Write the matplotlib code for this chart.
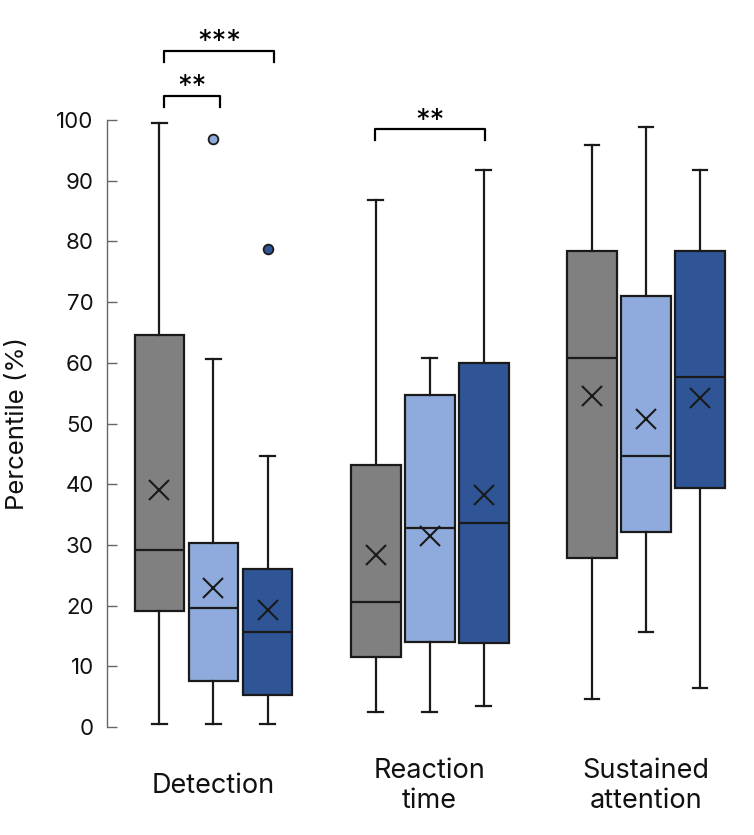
import matplotlib.pyplot as plt

plt.rcParams['font.family'] = ['Inter', 'DejaVu Sans']

# 数据
tasks = ['Detection', 'Reaction\ntime', 'Sustained\nattention']
colors = ['#808080', '#8faadc', '#2f5597']

whis_low = [[0.5, 0.5, 0.5], [2.5, 2.5, 3.5], [4.6, 15.6, 6.4]]
q1 = [[19.1, 7.6, 5.3], [11.5, 14.0, 13.8], [27.8, 32.1, 39.4]]
median = [[29.2, 19.6, 15.6], [20.6, 32.8, 33.6], [60.8, 44.6, 57.7]]
q3 = [[64.5, 30.3, 26.0], [43.2, 54.7, 60.0], [78.4, 71.0, 78.4]]
whis_high = [[99.5, 60.7, 44.6], [86.8, 60.8, 91.8], [95.9, 98.8, 91.8]]
means = [[39.0, 22.9, 19.3], [28.3, 31.5, 38.2], [54.5, 50.7, 54.2]]
outliers = [[[], [96.9], [78.8]], [[], [], []], [[], [], []]]

# 显著性标记: (组, 起始盒, 结束盒, 高度, 文本)
sig = [(0, 0, 2, 111.4, '***'), (0, 0, 1, 104.0, '**'), (1, 0, 2, 98.5, '**')]

fig = plt.figure(figsize=(7.54, 8.35), dpi=100)
ax = fig.add_axes([107 / 754, 1 - 727 / 835, 1 - 107 / 754, 114 * 6.07 / 835])

edge = '#1a1a1a'
for g in range(3):
    for i in range(3):
        pos = g * 4 + i
        st = {'whislo': whis_low[g][i], 'q1': q1[g][i], 'med': median[g][i],
              'q3': q3[g][i], 'whishi': whis_high[g][i], 'mean': means[g][i],
              'fliers': outliers[g][i]}
        ax.bxp([st], positions=[pos], widths=0.92, capwidths=0.27,
               patch_artist=True, showmeans=True,
               boxprops=dict(facecolor=colors[i], edgecolor=edge, linewidth=1.6),
               medianprops=dict(color=edge, linewidth=1.6),
               whiskerprops=dict(color=edge, linewidth=1.6),
               capprops=dict(color=edge, linewidth=1.6),
               meanprops=dict(marker='x', markersize=14, markeredgecolor=edge,
                              markeredgewidth=1.5),
               flierprops=dict(marker='o', markersize=7, markerfacecolor=colors[i],
                               markeredgecolor=edge, markeredgewidth=1.3))

# 显著性括号
for g, a, b, h, txt in sig:
    off = 0.08 if g == 0 else -0.02
    x1, x2 = g * 4 + a + off, g * 4 + b + off + 0.04
    ax.plot([x1, x1, x2, x2], [h - 1.8, h, h, h - 1.8], color='black',
            linewidth=1.6, clip_on=False)
    ax.text((x1 + x2) / 2, h - 0.9, txt, ha='center', va='bottom', fontsize=21)

ax.set_xlim(-0.97, 11.0)
ax.set_ylim(0, 114)
ax.spines['left'].set_bounds(0, 100)
ax.spines['left'].set_color('#666666')
ax.spines['left'].set_linewidth(1.0)
for s in ['top', 'right', 'bottom']:
    ax.spines[s].set_visible(False)

ax.set_yticks(range(0, 101, 10))
ax.tick_params(axis='y', direction='in', length=7, width=1.0, color='#666666',
               labelsize=16, labelcolor='#111111', pad=9.5)
ax.set_xticks([1, 5, 9])
ax.set_xticklabels(tasks, fontsize=19.5, color='#111111', linespacing=1.2,
                   va='center')
ax.tick_params(axis='x', length=0, pad=42.5)
ax.set_ylabel('Percentile (%)', fontsize=18.5, color='#111111')
ax.yaxis.set_label_coords(-0.121, 50 / 114)

plt.savefig('out.png', dpi=100)
